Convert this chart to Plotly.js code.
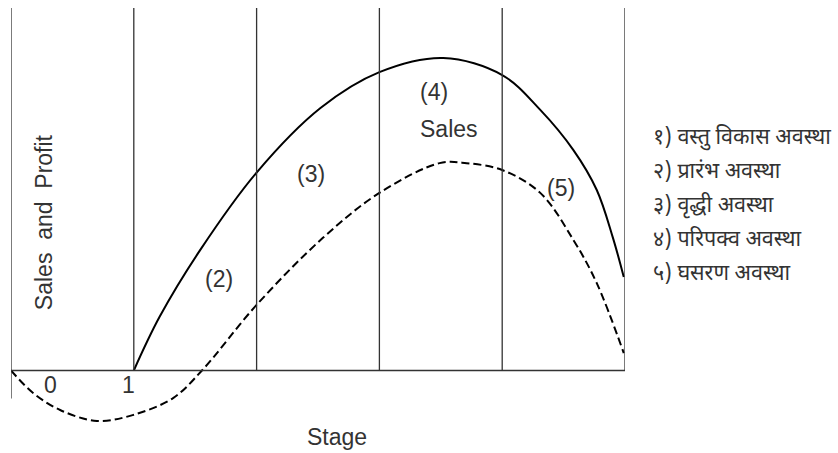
<!DOCTYPE html>
<html>
<head>
<meta charset="utf-8">
<script src="https://cdn.plot.ly/plotly-3.0.1.min.js"></script>
<style>
  body { margin: 0; background: #fff; }
  #graph1 { width: 838px; height: 453px; }
</style>
</head>
<body>
<div id="graph1"></div>
<script>
// sales curve (solid), stage units on x, sales on y (0 = baseline, 100 = top)
var salesX = [1.0, 1.21, 1.54, 2.0, 2.52, 3.0, 3.52, 4.0, 4.31, 4.58, 4.77, 4.90, 4.99];
var salesY = [0, 14.8, 33.2, 54.6, 72.4, 82.3, 86.2, 81.5, 71.9, 60.8, 49.8, 36.8, 25.8];

// profit curve (dashed)
var profitX = [0, 0.18, 0.4, 0.7, 0.99, 1.32, 1.555, 2.0, 2.54, 3.0, 3.49, 3.71, 4.0, 4.31, 4.58, 4.77, 4.99];
var profitY = [0, -6.2, -10.9, -13.9, -12.3, -7.6, 0, 18.1, 36.6, 49.0, 57.2, 57.2, 55.3, 49.0, 36.0, 24.1, 4.8];

var stageLines = [1, 2, 3, 4, 5];

// text on the chart
var stageLabels = ['0', '1'];
var phaseLabels = ['(2)', '(3)', '(4)', 'Sales', '(5)'];
var legendLines = [
    '१) वस्तु विकास अवस्था',
    '२) प्रारंभ अवस्था',
    '३) वृद्धी अवस्था',
    '४) परिपक्व अवस्था',
    '५) घसरण अवस्था'
];

var textColor = '#333333';
var latin = 'Liberation Sans, Arial, sans-serif';
var deva = 'Noto Sans Devanagari, Noto Sans, DejaVu Sans, sans-serif';

var traces = [
    {
        x: salesX, y: salesY, mode: 'lines', type: 'scatter',
        line: {color: '#000', width: 2, shape: 'spline', smoothing: 1},
        hoverinfo: 'skip'
    },
    {
        x: profitX, y: profitY, mode: 'lines', type: 'scatter',
        line: {color: '#000', width: 2, dash: '8px,4px', shape: 'spline', smoothing: 1},
        hoverinfo: 'skip'
    }
];

var shapes = [];
// left axis line goes a bit below baseline
shapes.push({type: 'line', xref: 'x', yref: 'y', x0: 0, x1: 0, y0: -7.7, y1: 100,
    line: {color: '#333', width: 1.3}});
// baseline
shapes.push({type: 'line', xref: 'x', yref: 'y', x0: 0, x1: 5, y0: 0, y1: 0,
    line: {color: '#333', width: 1.3}});
stageLines.forEach(function (s) {
    shapes.push({type: 'line', xref: 'x', yref: 'y', x0: s, x1: s, y0: 0, y1: 100,
        line: {color: '#333', width: 1.3}});
});

var annotations = [];
var stagePos = [[0.325, -4.0], [0.955, -4.0]];
stageLabels.forEach(function (t, i) {
    annotations.push({x: stagePos[i][0], y: stagePos[i][1], text: t, showarrow: false,
        font: {family: latin, size: 23, color: textColor}});
});
var phasePos = [[1.69, 25.2], [2.44, 54.2], [3.445, 76.7], [3.57, 66.6], [4.48, 50.3]];
phaseLabels.forEach(function (t, i) {
    annotations.push({x: phasePos[i][0], y: phasePos[i][1], text: t, showarrow: false,
        font: {family: latin, size: 23, color: textColor}});
});
legendLines.forEach(function (t, i) {
    annotations.push({xref: 'paper', x: 1.042, y: 64.0 - i * 9.4, xanchor: 'left', text: t, showarrow: false,
        font: {family: deva, size: 21.5, color: textColor}});
});
// axis titles as annotations
annotations.push({x: 2.655, y: -18.3, text: 'Stage', showarrow: false,
    font: {family: latin, size: 23, color: textColor}});
annotations.push({x: 0.265, y: 40.8, text: 'Sales\u00a0\u00a0and\u00a0\u00a0Profit', textangle: -90, showarrow: false,
    font: {family: latin, size: 23, color: textColor}});

Plotly.newPlot('graph1', traces, {
    width: 838,
    height: 453,
    showlegend: false,
    paper_bgcolor: '#fff',
    plot_bgcolor: '#fff',
    margin: {l: 11, r: 213, t: 8, b: 10, pad: 0},
    xaxis: {range: [0, 5], visible: false, fixedrange: true},
    yaxis: {range: [-20, 100], visible: false, fixedrange: true},
    shapes: shapes,
    annotations: annotations
}, {displayModeBar: false, staticPlot: true});
</script>
</body>
</html>
